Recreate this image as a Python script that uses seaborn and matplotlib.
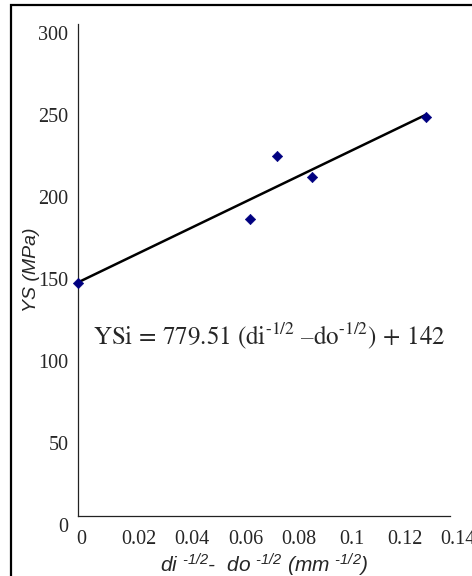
import matplotlib
matplotlib.use('Agg')
import matplotlib.pyplot as plt
import matplotlib.transforms as mtransforms
import seaborn as sns
import pandas as pd
from matplotlib.patches import Rectangle

# data
d_diff = [0.0, 0.0647, 0.0749, 0.088, 0.131]
ys = [142, 181, 219.5, 206.7, 243]
x_ticks = [0, 0.02, 0.04, 0.06, 0.08, 0.1, 0.12, 0.14]
x_ticklabels = ['0', '0.02', '0.04', '0.06', '0.08', '0.1', '0.12', '0.14']
y_ticks = [0, 50, 100, 150, 200, 250, 300]

df = pd.DataFrame({'d': d_diff, 'ys': ys})

sns.set_style('white')
plt.rcParams['mathtext.fontset'] = 'custom'
plt.rcParams['mathtext.rm'] = 'Liberation Sans:italic'
plt.rcParams['mathtext.it'] = 'Liberation Sans:italic'

fig = plt.figure(figsize=(4.72, 5.76), dpi=100)
ax = fig.add_axes([78 / 472, 1 - 516 / 576, 372 / 472, 492 / 576])

sns.regplot(data=df, x='d', y='ys', ci=None, truncate=True, scatter=False,
            color='black', line_kws={'linewidth': 1.8}, ax=ax)
sns.scatterplot(data=df, x='d', y='ys', marker='D', s=28, color='#000080',
                edgecolor='#000080', zorder=5, clip_on=False, ax=ax)

ax.set_xlim(0, 0.14)
ax.set_ylim(0, 300)
ax.set_xticks(x_ticks)
ax.set_xticklabels(x_ticklabels)
ax.set_yticks(y_ticks)
for side in ['top', 'right']:
    ax.spines[side].set_visible(False)
for side in ['left', 'bottom']:
    ax.spines[side].set_linewidth(0.9)
    ax.spines[side].set_color('#222222')
ax.tick_params(axis='both', direction='out', length=3, width=0.8, color='#222222',
               labelsize=14.5)
ax.tick_params(axis='y', pad=4)
ax.tick_params(axis='x', pad=7)

# Excel-style label placement: x labels nudged right, y labels nudged down
for i, lbl in enumerate(ax.get_xticklabels()):
    lbl.set_fontfamily('Liberation Serif')
    dx = 3 if i == 0 else 8
    lbl.set_transform(lbl.get_transform() +
                      mtransforms.ScaledTranslation(dx / 100, 0, fig.dpi_scale_trans))
for lbl in ax.get_yticklabels():
    lbl.set_fontfamily('Liberation Serif')
    lbl.set_transform(lbl.get_transform() +
                      mtransforms.ScaledTranslation(0, -9 / 100, fig.dpi_scale_trans))

ax.set_ylabel('YS (MPa)', fontsize=14, fontstyle='italic',
              fontfamily='Liberation Sans', labelpad=-1)
ax.set_xlabel(r'$di\ {}^{‐1/2}‐\ \ do\ {}^{‐1/2}\ (mm\ {}^{‐1/2})$', fontsize=15)
ax.xaxis.set_label_coords(0.5, -0.072)

eq = r'$\mathrm{YSi\,=\,779.51\ (di^{‐1/2}\ –do^{‐1/2})\,+\,142}$'
ax.text(0.0721, 110, eq, fontsize=18, ha='center', va='center', math_fontfamily='stix')

# outer frame
fig.patches.append(Rectangle((11 / 472, -0.05), 1.1, (1 - 5 / 576) + 0.05,
                             transform=fig.transFigure, fill=False,
                             edgecolor='black', linewidth=1.6))

fig.savefig('out.png', dpi=100)
